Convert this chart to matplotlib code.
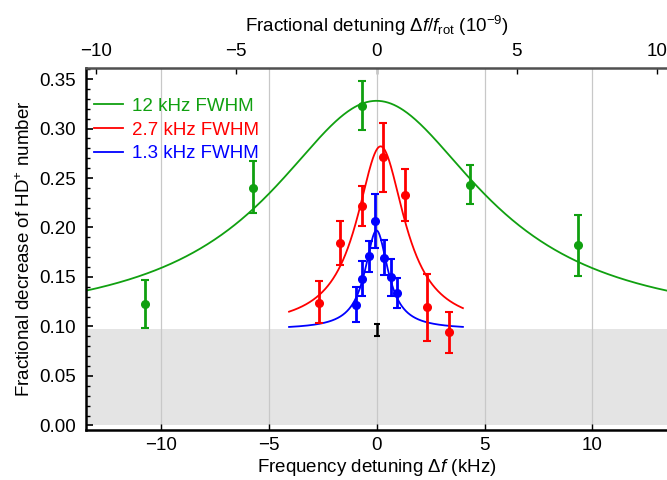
import numpy as np
import matplotlib
matplotlib.use("Agg")
from matplotlib import pyplot as plt
from matplotlib.ticker import MultipleLocator

plt.rcParams["font.family"] = ["Liberation Sans", "DejaVu Sans"]
plt.rcParams["mathtext.fontset"] = "custom"
plt.rcParams["mathtext.rm"] = "Liberation Sans"
plt.rcParams["mathtext.it"] = "Liberation Sans:italic"

GREEN = "#10a010"
RED = "#ff0000"
BLUE = "#0000ff"

# 12 kHz data (detuning kHz, value, lower, upper)
green_x = [-10.7, -5.7, -0.68, 4.33, 9.35]
green_y = [0.1225, 0.240, 0.323, 0.243, 0.182]
green_lo = [0.098, 0.215, 0.299, 0.2235, 0.151]
green_hi = [0.147, 0.267, 0.348, 0.263, 0.213]

# 2.7 kHz data
red_x = [-2.67, -1.67, -0.68, 0.32, 1.34, 2.33, 3.35]
red_y = [0.124, 0.1845, 0.2215, 0.271, 0.233, 0.120, 0.094]
red_lo = [0.1036, 0.162, 0.2016, 0.236, 0.2067, 0.0855, 0.0727]
red_hi = [0.146, 0.2067, 0.2417, 0.3057, 0.259, 0.1535, 0.1144]

# 1.3 kHz data
blue_x = [-0.97, -0.68, -0.37, -0.05, 0.34, 0.65, 0.95]
blue_y = [0.122, 0.148, 0.171, 0.207, 0.1693, 0.150, 0.134]
blue_lo = [0.1047, 0.1306, 0.155, 0.179, 0.152, 0.1306, 0.119]
blue_hi = [0.140, 0.1657, 0.186, 0.2336, 0.187, 0.168, 0.149]

# background level
bg_x = [0.0]
bg_y = [0.0965]
bg_lo = [0.0906]
bg_hi = [0.102]

# Lorentzian fits: (center kHz, FWHM kHz, amplitude, offset, x range)
green_fit = (0.0, 12.0, 0.230, 0.098, (-14, 14))
red_fit = (0.19, 2.7, 0.184, 0.098, (-4.05, 4.0))
blue_fit = (0.0, 1.3, 0.100, 0.097, (-4.05, 4.0))

f_rot_THz = 1.3


def lorentz(fit):
    x0, fwhm, amp, off, (a, b) = fit
    x = np.linspace(a, b, 600)
    return x, off + amp / (1 + ((x - x0) / (fwhm / 2)) ** 2)


fig = plt.figure(figsize=(6.67, 4.8), dpi=100)
ax = fig.add_axes([0.129, 0.104, 0.871, 0.754])

ax.axhspan(0.0, 0.097, color="#e4e4e4", zorder=0, lw=0)
for gx in [-10, -5, 0, 5, 10]:
    ax.axvline(gx, color="#c8c8c8", lw=0.9, zorder=0.5)

labels = ["12 kHz FWHM", "2.7 kHz FWHM", "1.3 kHz FWHM"]
series = [
    (green_fit, green_x, green_y, green_lo, green_hi, GREEN),
    (red_fit, red_x, red_y, red_lo, red_hi, RED),
    (blue_fit, blue_x, blue_y, blue_lo, blue_hi, BLUE),
]
for (fit, xs, ys, lo, hi, c), lab in zip(series, labels):
    fx, fy = lorentz(fit)
    ax.plot(fx, fy, color=c, lw=1.3, label=lab, zorder=2)
    ys = np.array(ys)
    yerr = [ys - np.array(lo), np.array(hi) - ys]
    ax.errorbar(xs, ys, yerr=yerr, fmt="o", color=c, ms=5.5, elinewidth=2,
                capsize=3, capthick=1.5, zorder=3)

ys = np.array(bg_y)
ax.errorbar(bg_x, ys, yerr=[ys - np.array(bg_lo), np.array(bg_hi) - ys], fmt="none",
            color="black", elinewidth=1.8, capsize=2.5, capthick=1.5, zorder=3)

ax.set_xlim(-13.45, 13.45)
ax.set_ylim(-0.0047, 0.361)
ax.set_xticks([-10, -5, 0, 5, 10])
ax.set_xticklabels(["\u221210", "\u22125", "0", "5", "10"])
ax.set_yticks(np.arange(0, 0.36, 0.05))
ax.set_yticklabels(["%.2f" % v for v in np.arange(0, 0.36, 0.05)])
ax.yaxis.set_minor_locator(MultipleLocator(0.01))
ax.tick_params(axis="both", which="both", direction="in", labelsize=13.5)
ax.tick_params(axis="y", which="major", length=5, width=1.2, pad=7)
ax.tick_params(axis="y", which="minor", length=3, width=1)
ax.tick_params(axis="x", which="major", length=4, width=1, pad=5)

ax.set_xlabel("Frequency detuning $\\Delta \\mathit{f}$ (kHz)", fontsize=13.5, labelpad=2)
ax.set_ylabel("Fractional decrease of HD$^{+}$ number", fontsize=13.5, labelpad=4)

for s in ["left", "bottom"]:
    ax.spines[s].set_linewidth(1.8)
    ax.spines[s].set_color("black")
ax.spines["top"].set_linewidth(1.8)
ax.spines["top"].set_color("#505050")
ax.spines["right"].set_visible(False)

top = ax.secondary_xaxis("top", functions=(lambda x: x / f_rot_THz, lambda t: t * f_rot_THz))
top.set_xticks([-10, -5, 0, 5, 10])
top.set_xticklabels(["\u221210", "\u22125", "0", "5", "10"])
top.tick_params(direction="in", labelsize=13.5, length=4, width=1, pad=6)
top.spines["top"].set_visible(False)
top.set_xlabel("Fractional detuning $\\Delta \\mathit{f}/\\mathit{f}_{\\rm rot}$ (10$^{-9}$)",
               fontsize=13.5, labelpad=8)

leg = ax.legend(loc="upper left", bbox_to_anchor=(-0.015, 0.965), frameon=False, fontsize=13.5,
                handlelength=1.55, handletextpad=0.45, labelspacing=0.35)
for t, c in zip(leg.get_texts(), [GREEN, RED, BLUE]):
    t.set_color(c)

fig.savefig("out.png", dpi=100)
